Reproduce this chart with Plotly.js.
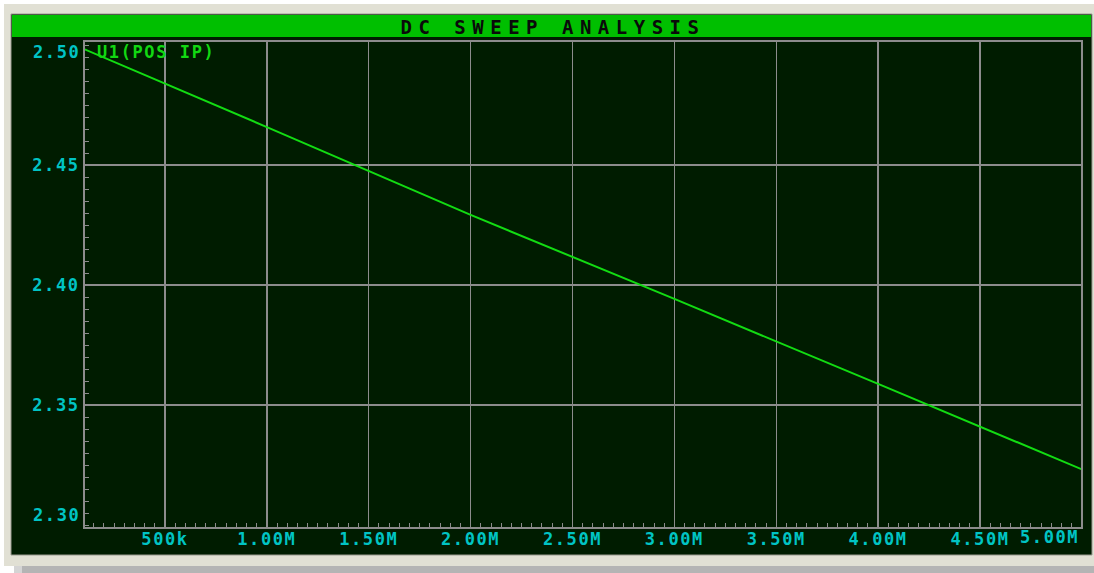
<!DOCTYPE html>
<html>
<head>
<meta charset="utf-8">
<script src="https://cdn.plot.ly/plotly-3.0.1.min.js"></script>
<style>
html,body{margin:0;padding:0;background:#ffffff;}
#chart{width:1094px;height:573px;}
.gtitle{letter-spacing:6.5px;}
.xtick text,.ytick text,.annotation-text{letter-spacing:1.6px;}
</style>
</head>
<body>
<div id="chart"></div>
<script>
// Data
const sweepX = [100000, 1000000, 2000000, 3000000, 4000000, 5000000];
const voltsY = [2.4984, 2.4658, 2.4292, 2.3942, 2.3588, 2.3232];
const seriesName = 'U1(POS IP)';
const titleText = 'DC SWEEP ANALYSIS';
const xTickVals = [500000, 1000000, 1500000, 2000000, 2500000, 3000000, 3500000, 4000000, 4500000];
const xTickText = ['500k', '1.00M', '1.50M', '2.00M', '2.50M', '3.00M', '3.50M', '4.00M', '4.50M'];
const xEndLabel = '5.00M';
const yTickVals = [2.35, 2.40, 2.45];
const yTickText = ['2.35', '2.40', '2.45'];
const yBottomLabel = '2.30';
const yTopLabel = '2.50';

const W = 1094, H = 573;
const L = 85, R = 1081, T = 42, B = 527;
const px = v => (v - L) / (R - L);
const py = v => (B - v) / (B - T);

const mono = 'DejaVu Sans Mono, Liberation Mono, monospace';
const cyan = '#00c4c4';
const grid = '#8c8c8c';
const dark = '#001c00';

const trace = {
  x: sweepX, y: voltsY, type: 'scatter', mode: 'lines',
  line: {color: '#12dc12', width: 2}, name: seriesName, showlegend: false,
  hoverinfo: 'skip'
};

const shapes = [
  {type:'rect', xref:'paper', yref:'paper', x0:px(4), x1:px(1094), y0:py(4), y1:py(566), fillcolor:'#e1e0d4', line:{width:0}, layer:'below'},
  {type:'rect', xref:'paper', yref:'paper', x0:px(22), x1:px(1094), y0:py(566), y1:py(573), fillcolor:'#b4b4b4', line:{width:0}, layer:'below'},
  {type:'rect', xref:'paper', yref:'paper', x0:px(14), x1:px(22), y0:py(566), y1:py(573), fillcolor:'#d4d4d4', line:{width:0}, layer:'below'},
  {type:'rect', xref:'paper', yref:'paper', x0:px(11), x1:px(1092), y0:py(14), y1:py(555), fillcolor:dark, line:{color:'#9a9a90', width:1}, layer:'below'},
  {type:'rect', xref:'paper', yref:'paper', x0:px(12), x1:px(1091), y0:py(15), y1:py(37), fillcolor:'#00bf00', line:{width:0}, layer:'below'}
];

const annFont = {family: mono, size: 17, color: cyan, weight: 'bold'};
const annotations = [
  {xref:'paper', yref:'y', x:0, y:2.30, xanchor:'right', yanchor:'middle', xshift:-3, yshift:10, text:yBottomLabel, showarrow:false, font:annFont},
  {xref:'paper', yref:'y', x:0, y:2.50, xanchor:'right', yanchor:'middle', xshift:-3, yshift:-7, text:yTopLabel, showarrow:false, font:annFont},
  {xref:'paper', yref:'paper', x:1, y:0, xanchor:'right', yanchor:'top', xshift:0, yshift:2, text:xEndLabel, showarrow:false, font:annFont},
  {xref:'paper', yref:'paper', x:0, y:1, xanchor:'left', yanchor:'top', xshift:10, yshift:2, text:seriesName, showarrow:false, font:{family: mono, size: 17, color:'#12d812', weight:'bold'}}
];

const layout = {
  width: W, height: H,
  margin: {l: L, r: W - R, t: T, b: H - B, pad: 0},
  paper_bgcolor: '#ffffff',
  plot_bgcolor: 'rgba(0,0,0,0)',
  title: {text: titleText, x: 553 / W, y: 1 - 27 / H, xref: 'container', yref: 'container',
          xanchor: 'center', yanchor: 'middle', font: {family: mono, size: 19, color: '#0a0a0a', weight: 'bold'}},
  xaxis: {
    range: [107400, 4995700], tickmode: 'array', tickvals: xTickVals, ticktext: xTickText,
    showgrid: true, gridcolor: grid, gridwidth: 1.5,
    showline: true, mirror: true, linecolor: grid, linewidth: 2,
    ticks: 'inside', ticklen: 4, tickcolor: grid, zeroline: false,
    ticklabelstandoff: -4,
    minor: {dtick: 50000, tick0: 0, ticks: 'inside', ticklen: 4, tickcolor: grid, showgrid: false},
    tickfont: {family: mono, size: 17, color: cyan, weight: 'bold'}, fixedrange: true
  },
  yaxis: {
    range: [2.29917, 2.50125], tickmode: 'array', tickvals: yTickVals, ticktext: yTickText,
    showgrid: true, gridcolor: grid, gridwidth: 1.5,
    showline: true, mirror: true, linecolor: grid, linewidth: 2,
    ticks: 'inside', ticklen: 4, tickcolor: grid, zeroline: false,
    minor: {dtick: 0.005, tick0: 0, ticks: 'inside', ticklen: 4, tickcolor: grid, showgrid: false},
    tickfont: {family: mono, size: 17, color: cyan, weight: 'bold'}, fixedrange: true
  },
  shapes: shapes,
  annotations: annotations,
  showlegend: false
};

Plotly.newPlot('chart', [trace], layout, {displayModeBar: false, staticPlot: true});
</script>
</body>
</html>
